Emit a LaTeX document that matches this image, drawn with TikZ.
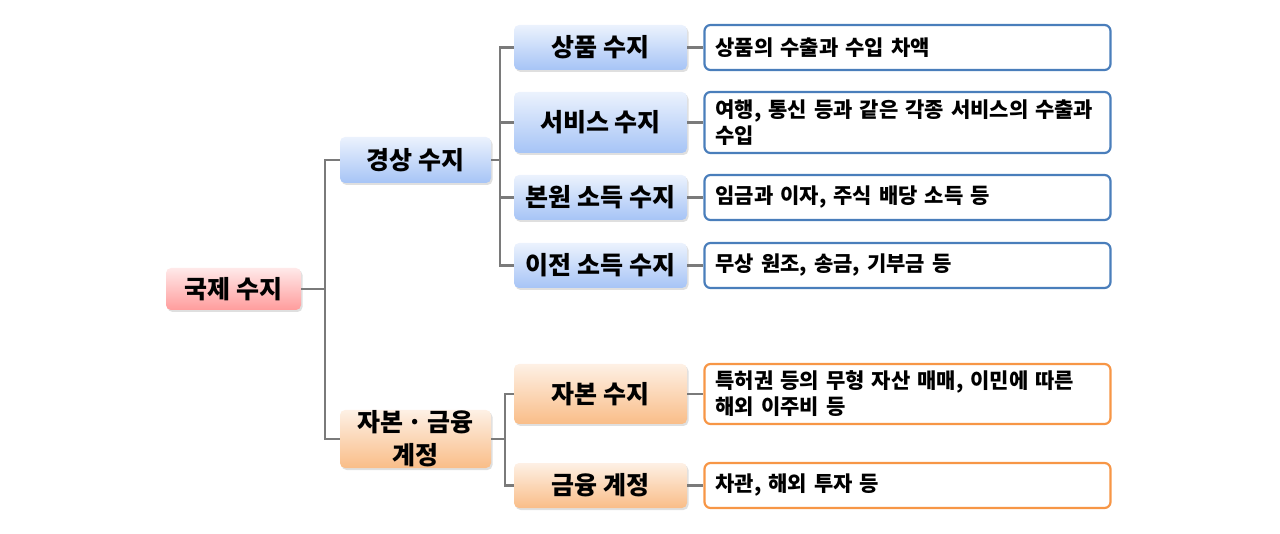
\documentclass[tikz,border=0pt]{standalone}
\usepackage{fontspec}
\setmainfont{Noto Sans CJK KR}
\usetikzlibrary{shadows}
\definecolor{lineg}{HTML}{7A7A7A}
\definecolor{bluebd}{HTML}{4A7EBB}
\definecolor{orangebd}{HTML}{F79646}
\tikzset{
  cat/.style={rounded corners=5pt, top color=#1!22!white, bottom color=#1, draw=none,
    minimum width=173pt, font=\fontsize{25}{30}\selectfont\bfseries, align=center,
    drop shadow={opacity=0.25, shadow xshift=1.5pt, shadow yshift=-2pt}},
  desc/.style={rounded corners=6pt, draw=#1, line width=2.2pt, fill=white,
    minimum width=406pt, text width=384pt, align=left, inner xsep=11pt,
    font=\fontsize{21}{26}\selectfont\bfseries},
  conn/.style={draw=lineg, line width=2.2pt},
}
\definecolor{blueb}{HTML}{A6C4F6}
\definecolor{orangeb}{HTML}{F9BD88}
\definecolor{pinkb}{HTML}{FF9C9C}
\begin{document}
\begin{tikzpicture}[x=1pt,y=-1pt]
\useasboundingbox (0,0) rectangle (1280,534);
% level 0
\node[cat=pinkb, minimum width=135pt, minimum height=42pt] (root) at (233.5,289) {국제 수지};
% level 1
\node[cat=blueb, minimum width=151pt, minimum height=46pt] (cur) at (415.5,160) {경상 수지};
\node[cat=orangeb, minimum width=151pt, minimum height=58pt, inner ysep=0pt, font=\fontsize{25}{33}\selectfont\bfseries] (cap) at (415.5,439) {자본\,·\,금융\\계정};
% level 2
\node[cat=blueb, minimum height=45pt] (c1) at (600.5,47.5) {상품 수지};
\node[cat=blueb, minimum height=61pt] (c2) at (600.5,122.5) {서비스 수지};
\node[cat=blueb, minimum height=45pt] (c3) at (600.5,197.5) {본원 소득 수지};
\node[cat=blueb, minimum height=45pt] (c4) at (600.5,265.5) {이전 소득 수지};
\node[cat=orangeb, minimum height=60pt] (k1) at (600.5,394) {자본 수지};
\node[cat=orangeb, minimum height=45pt] (k2) at (600.5,485.5) {금융 계정};
% descriptions
\node[desc=bluebd, minimum height=45pt] (d1) at (907.5,47.5) {상품의 수출과 수입 차액};
\node[desc=bluebd, minimum height=61pt] (d2) at (907.5,122.5) {여행, 통신 등과 같은 각종 서비스의 수출과\\수입};
\node[desc=bluebd, minimum height=45pt] (d3) at (907.5,197.5) {임금과 이자, 주식 배당 소득 등};
\node[desc=bluebd, minimum height=45pt] (d4) at (907.5,265.5) {무상 원조, 송금, 기부금 등};
\node[desc=orangebd, minimum height=60pt] (e1) at (907.5,394) {특허권 등의 무형 자산 매매, 이민에 따른\\해외 이주비 등};
\node[desc=orangebd, minimum height=45pt] (e2) at (907.5,485.5) {차관, 해외 투자 등};
% connectors
\coordinate (j0) at (325,289);
\coordinate (j1) at (500,160);
\coordinate (j2) at (505,439);
\draw[conn] (root.east) -- (j0);
\draw[conn] (cur.west) -| (j0);
\draw[conn] (cap.west) -| (j0);
\draw[conn] (cur.east) -- (j1);
\draw[conn] (c1.west) -| (j1);
\draw[conn] (c2.west) -| (j1);
\draw[conn] (c3.west) -| (j1);
\draw[conn] (c4.west) -| (j1);
\draw[conn] (cap.east) -- (j2);
\draw[conn] (k1.west) -| (j2);
\draw[conn] (k2.west) -| (j2);
\draw[conn] (c1.east) -- (d1.west);
\draw[conn] (c2.east) -- (d2.west);
\draw[conn] (c3.east) -- (d3.west);
\draw[conn] (c4.east) -- (d4.west);
\draw[conn] (k1.east) -- (e1.west);
\draw[conn] (k2.east) -- (e2.west);
\end{tikzpicture}
\end{document}
